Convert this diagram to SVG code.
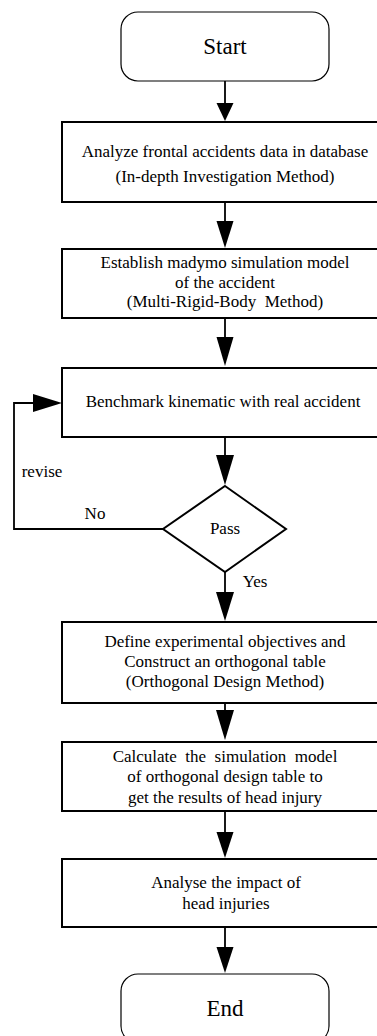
<svg xmlns="http://www.w3.org/2000/svg" width="377" height="1036" viewBox="0 0 377 1036" font-family="'Liberation Serif', 'Times New Roman', 'DejaVu Serif', serif">
<style>
.term{fill:#fff;stroke:#000;stroke-width:1.2}
.box{fill:#fff;stroke:#000;stroke-width:2}
text{font-family:'Liberation Serif','Times New Roman','DejaVu Serif',serif;font-size:17px;fill:#000;text-anchor:middle}
.big{font-size:23px}
.ln{fill:none;stroke:#000;stroke-width:1.8}
.ah{fill:#000;stroke:none}
</style>
<rect width="377" height="1036" fill="#fff"/>
<g id="connectors">
<line class="ln" x1="225" y1="81" x2="225" y2="106"/>
<polygon class="ah" points="216.5,103 233.5,103 225,121"/>
<line class="ln" x1="225" y1="203" x2="225" y2="225"/>
<polygon class="ah" points="216.5,221 233.5,221 225,248"/>
<line class="ln" x1="225" y1="318" x2="225" y2="340"/>
<polygon class="ah" points="216.5,337 233.5,337 225,366"/>
<line class="ln" x1="225" y1="437" x2="225" y2="458"/>
<polygon class="ah" points="216,455 234,455 225,485"/>
<line class="ln" x1="225" y1="572" x2="225" y2="595"/>
<polygon class="ah" points="216,592 234,592 225,621"/>
<line class="ln" x1="225" y1="703" x2="225" y2="713"/>
<polygon class="ah" points="216,710 234,710 225,740"/>
<line class="ln" x1="225" y1="811" x2="225" y2="835"/>
<polygon class="ah" points="216.5,832 233.5,832 225,858"/>
<line class="ln" x1="225" y1="927" x2="225" y2="950"/>
<polygon class="ah" points="216.5,947 233.5,947 225,973"/>
<polyline class="ln" points="163,529 14,529 14,403 36,403"/>
<polygon class="ah" points="33,394 33,412 62,403"/>
<text x="42" y="477">revise</text>
<text x="95" y="519">No</text>
<text x="255" y="587">Yes</text>
</g>
<g id="start">
<rect class="term" x="121" y="12" width="208" height="69" rx="17"/>
<text class="big" x="225" y="54">Start</text>
</g>
<g id="analyze">
<rect class="box" x="62" y="122" width="326" height="80"/>
<text x="225" y="157">Analyze frontal accidents data in database</text>
<text x="225" y="182">(In-depth Investigation Method)</text>
</g>
<g id="establish">
<rect class="box" x="62" y="249" width="326" height="69"/>
<text x="225" y="268">Establish madymo simulation model</text>
<text x="225" y="288">of the accident</text>
<text x="225" y="307" xml:space="preserve">(Multi-Rigid-Body  Method)</text>
</g>
<g id="benchmark">
<rect class="box" x="62" y="368" width="326" height="69"/>
<text x="223" y="407">Benchmark kinematic with real accident</text>
</g>
<g id="pass">
<polygon class="box" points="225,486 286,529 225,572 163,529"/>
<text x="225" y="534">Pass</text>
</g>
<g id="define">
<rect class="box" x="62" y="622" width="326" height="81"/>
<text x="225" y="647">Define experimental objectives and</text>
<text x="225" y="667">Construct an orthogonal table</text>
<text x="225" y="687">(Orthogonal Design Method)</text>
</g>
<g id="calculate">
<rect class="box" x="62" y="742" width="326" height="69"/>
<text x="225" y="762" xml:space="preserve">Calculate  the  simulation  model</text>
<text x="225" y="782">of orthogonal design table to</text>
<text x="225" y="803">get the results of head injury</text>
</g>
<g id="analyse">
<rect class="box" x="62" y="859" width="326" height="68"/>
<text x="226" y="888">Analyse the impact of</text>
<text x="226" y="909">head injuries</text>
</g>
<g id="end">
<rect class="term" x="121" y="974" width="208" height="69" rx="17"/>
<text class="big" x="225" y="1016">End</text>
</g>
</svg>
